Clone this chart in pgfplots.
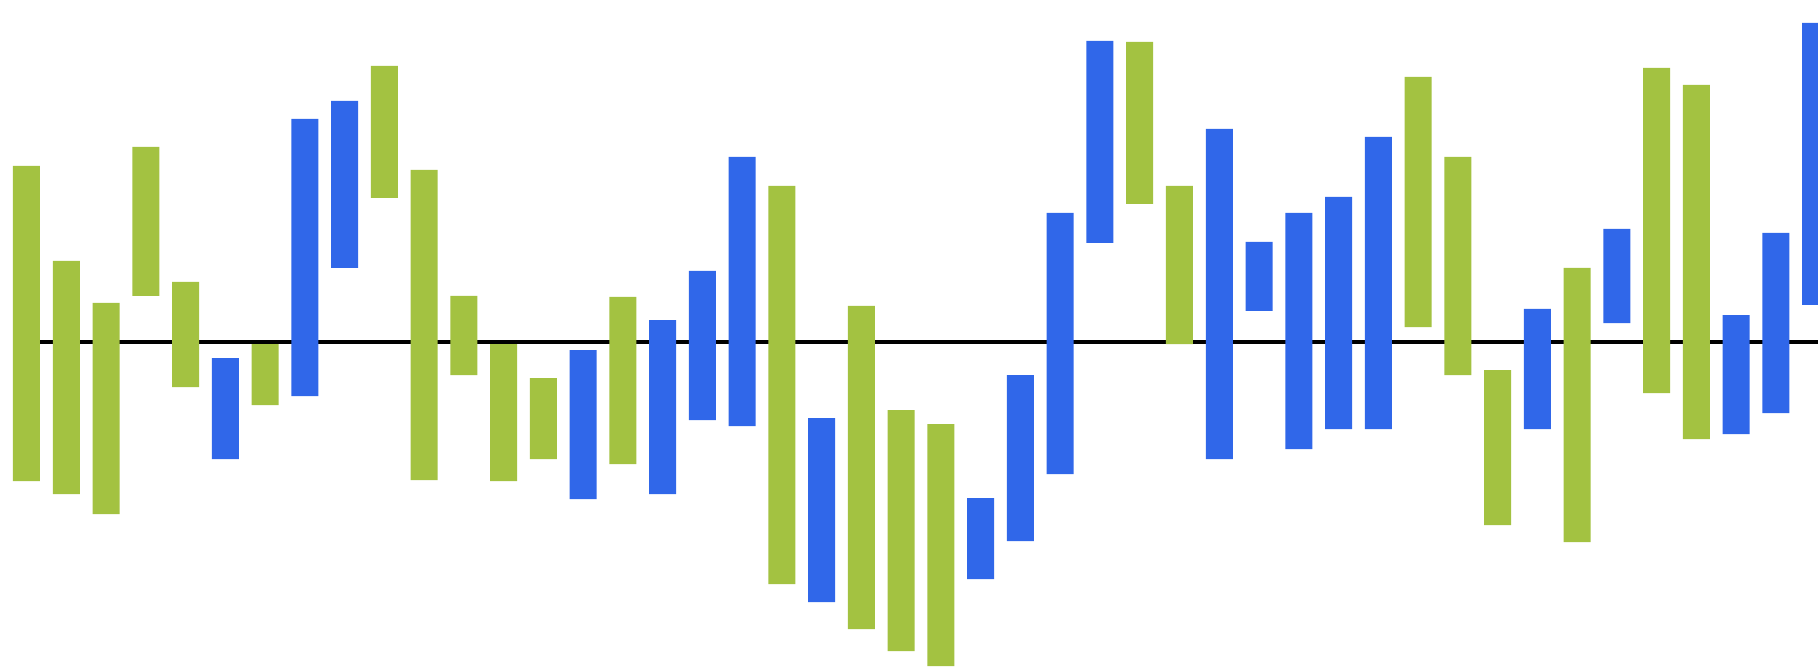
\documentclass[border=0pt]{standalone}
\usepackage{pgfplots}
\usepackage{pgfplotstable}
\pgfplotsset{compat=1.18}

\definecolor{barGreen}{HTML}{A3C241}
\definecolor{barBlue}{HTML}{3067E9}

% floating bars: lo, hi, g=1 green / g=0 blue (reference line at 324)
\pgfplotstableread{
x  lo   hi   g
1  185  500  1
2  172  405  1
3  152  363  1
4  370  519  1
5  279  384  1
6  207  308  0
7  261  322  1
8  270  547  0
9  398  565  0
10 468  600  1
11 186  496  1
12 291  370  1
13 185  322  1
14 207  288  1
15 167  316  0
16 202  369  1
17 172  346  0
18 246  395  0
19 240  509  0
20 82   480  1
21 64   248  0
22 37   360  1
23 15   256  1
24 0    242  1
25 87   168  0
26 125  291  0
27 192  453  0
28 423  625  0
29 462  624  1
30 322  480  1
31 207  537  0
32 355  424  0
33 217  453  0
34 237  469  0
35 237  529  0
36 339  589  1
37 291  509  1
38 141  296  1
39 237  357  0
40 124  398  1
41 343  437  0
42 273  598  1
43 227  581  1
44 232  351  0
45 253  433  0
46 361  643  0
}\bars

\pgfplotsset{
  frame/.style={
    width=18.18cm, height=6.66cm, scale only axis,
    xmin=0.3335, xmax=46.06, ymin=0, ymax=666,
    enlargelimits=false,
    axis lines=none, xtick=\empty, ytick=\empty,
  },
}

\begin{document}
\begin{tikzpicture}
  \begin{axis}[frame]
    \addplot[black, line width=0.34mm] coordinates {(1,324) (46.06,324)};
    \coordinate (sw) at (rel axis cs:0,0);
    \coordinate (ne) at (rel axis cs:1,1);
  \end{axis}
  \begin{axis}[frame, ybar stacked, bar width=2.7mm]
    \addplot[draw=none, fill=none] table[x=x, y=lo] {\bars};
    \addplot[draw=none, fill=barGreen]
      table[x=x, y expr=\thisrow{g}*(\thisrow{hi}-\thisrow{lo})] {\bars};
    \addplot[draw=none, fill=barBlue]
      table[x=x, y expr=(1-\thisrow{g})*(\thisrow{hi}-\thisrow{lo})] {\bars};
  \end{axis}
  \pgfresetboundingbox
  \useasboundingbox (sw) rectangle (ne);
\end{tikzpicture}
\end{document}
